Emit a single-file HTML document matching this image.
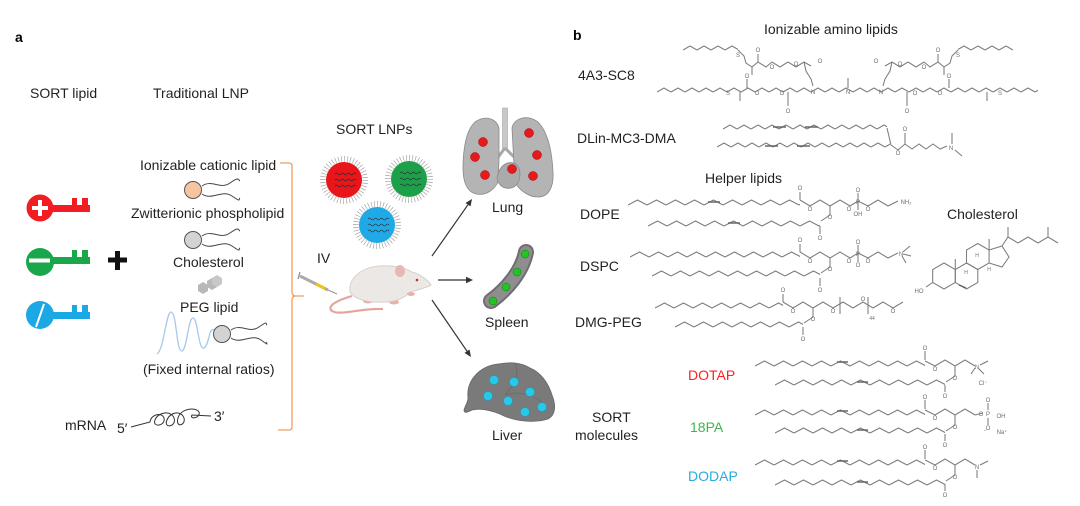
<!DOCTYPE html>
<html><head><meta charset="utf-8"><style>
html,body{margin:0;padding:0;background:#fff;}
svg{display:block;}
text{font-family:"Liberation Sans",Arial,sans-serif;}
.t{font-size:14px;fill:#231f20;}
.s{font-size:6px;fill:#6f6f6f;text-anchor:middle;}
.ln{stroke:#7c7c7c;stroke-width:1.05;fill:none;}
.db{stroke:#5e5e5e;stroke-width:1.4;}
</style></head><body>
<svg width="1080" height="506" viewBox="0 0 1080 506" xmlns="http://www.w3.org/2000/svg">
<defs>
<pattern id="z1" width="14" height="6" patternUnits="userSpaceOnUse"><path d="M0,5 L7,1 L14,5" fill="none" stroke="#7c7c7c" stroke-width="1.05"/></pattern>
<pattern id="z2" width="19" height="7" patternUnits="userSpaceOnUse"><path d="M0,6 L9.5,1 L19,6" fill="none" stroke="#7c7c7c" stroke-width="1.05"/></pattern>
<g id="sq"><path d="M-10,0 q1.5,-2 3,0 t3,0 t3,0 t3,0 t3,0 t3,0 t3,0" stroke="#222" stroke-width="0.6" fill="none"/></g>
<g id="armL">
  <g transform="translate(683,45)"><rect width="55" height="6" fill="url(#z1)"/></g>
  <polyline class="ln" points="738,50 744,56 746,63 752,67 758,62 766,67 772,62 780,67 788,62 796,67 804,62 811,66"/>
  <line class="ln" x1="758" y1="62" x2="758" y2="54"/>
  <line class="ln" x1="752" y1="67" x2="752" y2="75"/>
  <polyline class="ln" points="804,62 806,71 811,79 813,86"/>
</g>
<g id="headPC">
  <polyline class="ln" points="800,200 810,206 820,200 830,206 840,200 850,206 858,201 868,206 878,200 888,206 898,201"/>
  <line class="ln" x1="800" y1="200" x2="800" y2="192"/>
  <line class="ln" x1="858" y1="201" x2="858" y2="193"/>
  <line class="ln" x1="858" y1="201" x2="858" y2="210"/>
  <polyline class="ln" points="830,206 830,215 821,221"/>
  <line class="ln" x1="820" y1="226" x2="820" y2="234"/>
</g>
<g id="headSort">
  <line class="ln" x1="925" y1="360" x2="925" y2="351"/>
  <polyline class="ln" points="925,361 935,366 945,360 955,366 965,360 975,366"/>
  <polyline class="ln" points="955,366 955,376 946,382"/>
  <line class="ln" x1="945" y1="385" x2="945" y2="392"/>
</g>
</defs>

<!-- ========== PANEL A ========== -->
<text x="15" y="42" style="font-size:14px;font-weight:bold;fill:#000">a</text>
<text class="t" x="30" y="98">SORT lipid</text>
<text class="t" x="153" y="98">Traditional LNP</text>

<!-- keys -->
<g fill="#f01e23">
  <circle cx="40" cy="208" r="13.5"/>
  <rect x="50" y="205" width="40" height="7"/>
  <rect x="72" y="198" width="5" height="8"/>
  <rect x="82" y="198" width="6" height="8"/>
</g>
<rect x="32" y="206" width="16" height="4" fill="#fff"/>
<rect x="38" y="200" width="4" height="16" fill="#fff"/>

<g fill="#1aa64a">
  <circle cx="40" cy="262" r="14"/>
  <rect x="50" y="257" width="40" height="7"/>
  <rect x="72" y="250" width="5" height="8"/>
  <rect x="82" y="250" width="6" height="8"/>
</g>
<rect x="29" y="258.5" width="21" height="4" fill="#fff"/>

<g fill="#1ca8e4">
  <circle cx="40" cy="315" r="14"/>
  <rect x="50" y="312" width="40" height="7"/>
  <rect x="72" y="305" width="5" height="8"/>
  <rect x="82" y="305" width="6" height="8"/>
</g>
<line x1="36" y1="327" x2="44" y2="304" stroke="#fff" stroke-width="2"/>

<!-- plus -->
<rect x="108" y="257.5" width="19" height="5" fill="#111"/>
<rect x="115" y="251" width="5" height="19" fill="#111"/>

<!-- LNP components -->
<text class="t" x="140" y="170">Ionizable cationic lipid</text>
<circle cx="193" cy="190" r="8.5" fill="#f6c5a0" stroke="#555" stroke-width="1"/>
<path d="M202,186 C212,179 220,190 230,183 S238,180 240,181" stroke="#444" fill="none" stroke-width="1"/>
<path d="M202,194 C212,201 222,189 232,196 S238,199 240,198" stroke="#444" fill="none" stroke-width="1"/>

<text class="t" x="131" y="218">Zwitterionic phospholipid</text>
<circle cx="193" cy="240" r="8.5" fill="#d3d3d3" stroke="#555" stroke-width="1"/>
<path d="M202,236 C212,229 220,240 230,233 S238,230 240,231" stroke="#444" fill="none" stroke-width="1"/>
<path d="M202,244 C212,251 222,239 232,246 S238,249 240,248" stroke="#444" fill="none" stroke-width="1"/>

<text class="t" x="173" y="267">Cholesterol</text>
<g fill="#b8b8b8">
  <polygon points="203,282 208,285 208,291 203,294 198,291 198,285"/>
  <polygon points="212,278 217,281 217,287 212,290 207,287 207,281"/>
  <polygon points="217,275 222,278 222,284 217,287 212,284 212,278" fill="#c8c8c8"/>
</g>

<text class="t" x="180" y="312">PEG lipid</text>
<path d="M157,354 C164,350 166,312 171,312 C177,312 176,352 182,351 C187,350 188,318 193,318 C198,318 198,350 204,348 C209,346 209,326 214,330" stroke="#a9c8ea" stroke-width="1.3" fill="none"/>
<circle cx="222" cy="334" r="8.5" fill="#d3d3d3" stroke="#555" stroke-width="1"/>
<path d="M231,330 C241,323 249,334 259,327 S265,324 267,325" stroke="#444" fill="none" stroke-width="1"/>
<path d="M231,338 C241,345 251,333 261,340 S265,343 267,342" stroke="#444" fill="none" stroke-width="1"/>

<text class="t" x="143" y="374">(Fixed internal ratios)</text>

<text class="t" x="65" y="430">mRNA</text>
<text class="t" x="117" y="433">5′</text>
<text class="t" x="214" y="421">3′</text>
<path d="M131,427 L150,422 C151,414 162,412 164,418 C166,426 152,428 155,420 C158,412 171,410 174,418 C177,427 163,429 167,420 C170,412 181,410 184,418 C186,426 175,428 178,418 C181,408 196,407 199,412 C201,418 189,420 192,415 L211,416" stroke="#333" stroke-width="1" fill="none"/>

<!-- orange bracket -->
<path d="M280,163 L289,163 Q292,163 292,166 L292,292 Q292,296 296,296 L304,296 M296,296 Q292,296 292,300 L292,427 Q292,430 289,430 L278,430" stroke="#f39c5d" stroke-width="1.3" fill="none"/>

<!-- SORT LNPs -->
<text class="t" x="336" y="134">SORT LNPs</text>
<g>
  <circle cx="344" cy="180" r="21" fill="none" stroke="#999" stroke-width="6" stroke-dasharray="0.6 2.4"/>
  <circle cx="344" cy="180" r="18" fill="#e8151b"/>
  <use href="#sq" transform="translate(345,174)"/><use href="#sq" transform="translate(345,180)"/><use href="#sq" transform="translate(345,186)"/>
</g>
<g>
  <circle cx="409" cy="179" r="21" fill="none" stroke="#999" stroke-width="6" stroke-dasharray="0.6 2.4"/>
  <circle cx="409" cy="179" r="18" fill="#1ca04a"/>
  <use href="#sq" transform="translate(410,173)"/><use href="#sq" transform="translate(410,179)"/><use href="#sq" transform="translate(410,185)"/>
</g>
<g>
  <circle cx="377" cy="225" r="21" fill="none" stroke="#999" stroke-width="6" stroke-dasharray="0.6 2.4"/>
  <circle cx="377" cy="225" r="18" fill="#1fa9e6"/>
  <use href="#sq" transform="translate(378,219)"/><use href="#sq" transform="translate(378,225)"/><use href="#sq" transform="translate(378,231)"/>
</g>

<text class="t" x="317" y="263">IV</text>

<!-- syringe -->
<line x1="300" y1="276" x2="328" y2="290" stroke="#aaa" stroke-width="3"/>
<line x1="316" y1="284" x2="325" y2="288.5" stroke="#f0c419" stroke-width="3"/>
<line x1="328" y1="290" x2="337" y2="294" stroke="#777" stroke-width="0.8"/>
<line x1="300" y1="272" x2="298" y2="279" stroke="#888" stroke-width="1.2"/>

<!-- mouse -->
<path d="M352,296 C338,300 326,306 332,311 C340,316 360,308 383,309" stroke="#e3a49c" stroke-width="2.2" fill="none"/>
<ellipse cx="368" cy="301" rx="5" ry="2.5" fill="#e9b2ab"/>
<ellipse cx="394" cy="302" rx="5" ry="2.5" fill="#e9b2ab"/>
<path d="M350,292 C348,278 362,267 380,266 C395,265 405,268 412,272 C420,274 428,280 431,285 C426,288 418,290 410,292 C405,298 395,302 385,302 C370,303 355,300 350,292 Z" fill="#ebe8e5" stroke="#cfcac5" stroke-width="0.8"/>
<ellipse cx="400" cy="271" rx="5" ry="6" fill="#e9b6b2"/>
<circle cx="417" cy="280" r="1.3" fill="#b33"/>
<ellipse cx="411" cy="294" rx="4" ry="2" fill="#e9b2ab"/>

<!-- arrows -->
<g stroke="#333" stroke-width="1.2">
  <line x1="432" y1="256" x2="468" y2="204.7"/>
  <line x1="438" y1="280" x2="466" y2="280"/>
  <line x1="432" y1="300" x2="467" y2="351.2"/>
</g>
<g fill="#333">
  <polygon points="472,199 470.5,206.4 465.5,203"/>
  <polygon points="473,280 466,276.8 466,283.2"/>
  <polygon points="471,357 469.5,349.5 464.5,352.9"/>
</g>

<!-- lung -->
<rect x="502.5" y="108" width="5" height="42" fill="#c8c8c8" stroke="#9a9a9a" stroke-width="0.5"/>
<path d="M505,148 L496,160 M505,148 L515,158" stroke="#a8a8a8" stroke-width="3" fill="none"/>
<path d="M499,128 C496,118 485,115 475,122 C466,130 463,150 463,168 C463,182 467,192 476,194 C486,196 494,190 498,182 L499,160 Z" fill="#b4b4b4" stroke="#8a8a8a" stroke-width="0.8"/>
<path d="M512,128 C514,118 527,114 538,122 C548,132 552,152 553,172 C554,188 548,197 538,197 C528,197 520,190 516,184 C522,178 520,168 514,165 Z" fill="#b4b4b4" stroke="#8a8a8a" stroke-width="0.8"/>
<path d="M497,178 C499,165 508,160 516,164 C522,170 521,182 514,187 C507,190 499,188 497,178 Z" fill="#aaaaaa" stroke="#8a8a8a" stroke-width="0.8"/>
<g fill="#e41a1c" stroke="#b30000" stroke-width="0.5">
  <circle cx="483" cy="142" r="4.5"/><circle cx="475" cy="157" r="4.5"/><circle cx="485" cy="175" r="4.5"/>
  <circle cx="529" cy="133" r="4.5"/><circle cx="537" cy="155" r="4.5"/><circle cx="533" cy="176" r="4.5"/>
  <circle cx="512" cy="169" r="4.5"/>
</g>
<text class="t" x="492" y="212">Lung</text>

<!-- spleen -->
<path d="M526,252 C522,272 506,290 491,301" stroke="#6e6e6e" stroke-width="16" stroke-linecap="round" fill="none"/>
<path d="M526,252 C522,272 506,290 491,301" stroke="#8e8e8e" stroke-width="12" stroke-linecap="round" fill="none"/>
<g fill="#22c322" stroke="#127a12" stroke-width="0.5">
  <circle cx="525" cy="254" r="4"/><circle cx="517" cy="272" r="4"/><circle cx="506" cy="287" r="4"/><circle cx="493" cy="301" r="4"/>
</g>
<text class="t" x="485" y="327">Spleen</text>

<!-- liver -->
<path d="M468,398 C466,380 480,366 498,364 C510,362 520,362 530,368 C540,372 548,382 552,395 C556,405 556,415 548,419 C535,423 515,422 500,414 C490,410 480,408 472,410 C468,412 464,414 464,410 C465,406 468,402 468,398 Z" fill="#7a7a7a" stroke="#666" stroke-width="0.8"/>
<path d="M515,364 C520,375 515,385 505,395 M505,395 C520,390 535,395 545,405" stroke="#6a6a6a" stroke-width="0.8" fill="none"/>
<g fill="#27c8e8" stroke="#1a9ab8" stroke-width="0.5">
  <circle cx="494" cy="380" r="4.5"/><circle cx="514" cy="382" r="4.5"/><circle cx="530" cy="392" r="4.5"/>
  <circle cx="488" cy="396" r="4.5"/><circle cx="508" cy="401" r="4.5"/><circle cx="525" cy="412" r="4.5"/>
  <circle cx="542" cy="407" r="4.5"/>
</g>
<text class="t" x="492" y="440">Liver</text>

<!-- ========== PANEL B ========== -->
<text x="573" y="40" style="font-size:14px;font-weight:bold;fill:#000">b</text>
<text class="t" x="764" y="34">Ionizable amino lipids</text>
<text class="t" x="578" y="80">4A3-SC8</text>
<text class="t" x="577" y="143">DLin-MC3-DMA</text>
<text class="t" x="705" y="183">Helper lipids</text>
<text class="t" x="580" y="219">DOPE</text>
<text class="t" x="947" y="219">Cholesterol</text>
<text class="t" x="580" y="271">DSPC</text>
<text class="t" x="575" y="327">DMG-PEG</text>
<text x="688" y="380" style="font-size:14px;fill:#ff2020">DOTAP</text>
<text class="t" x="592" y="422">SORT</text>
<text class="t" x="575" y="440">molecules</text>
<text x="690" y="432" style="font-size:14px;fill:#3cb54a">18PA</text>
<text x="688" y="481" style="font-size:14px;fill:#29aae1">DODAP</text>

<!-- 4A3-SC8 -->
<g transform="translate(657,87)"><rect width="381" height="6" fill="url(#z1)"/></g>
<use href="#armL"/>
<use href="#armL" transform="translate(1696,0) scale(-1,1)"/>
<line class="ln" x1="848" y1="88" x2="848" y2="78"/>
<line class="ln" x1="747" y1="88" x2="747" y2="79"/>
<line class="ln" x1="949" y1="88" x2="949" y2="79"/>
<line class="ln" x1="740" y1="92" x2="740" y2="101"/>
<line class="ln" x1="987" y1="92" x2="987" y2="101"/>
<line class="ln" x1="788" y1="92" x2="788" y2="106"/>
<line class="ln" x1="907" y1="92" x2="907" y2="106"/>
<g class="s">
  <text x="738" y="57">S</text><text x="958" y="57">S</text>
  <text x="758" y="52">O</text><text x="938" y="52">O</text>
  <text x="772" y="69">O</text><text x="924" y="69">O</text>
  <text x="796" y="66">O</text><text x="900" y="66">O</text>
  <text x="820" y="63">O</text><text x="876" y="63">O</text>
  <text x="728" y="95">S</text><text x="1000" y="95">S</text>
  <text x="747" y="78">O</text><text x="949" y="78">O</text>
  <text x="757" y="95">O</text><text x="940" y="95">O</text>
  <text x="782" y="95">O</text><text x="915" y="95">O</text>
  <text x="788" y="113">O</text><text x="907" y="113">O</text>
  <text x="813" y="94">N</text><text x="848" y="94">N</text><text x="881" y="94">N</text>
</g>

<!-- DLin-MC3-DMA -->
<g transform="translate(723,124)"><rect width="164" height="6" fill="url(#z1)"/></g>
<g transform="translate(717,142)"><rect width="173" height="6" fill="url(#z1)"/></g>
<line class="db" x1="773" y1="127" x2="786" y2="127"/>
<line class="db" x1="805" y1="127" x2="818" y2="127"/>
<line class="db" x1="765" y1="146" x2="778" y2="146"/>
<line class="db" x1="797" y1="146" x2="810" y2="146"/>
<line class="ln" x1="887" y1="128" x2="891" y2="145"/>
<polyline class="ln" points="891,145 898,150 905,144 912,149 919,144 926,149 933,144 940,149 947,146"/>
<line class="ln" x1="905" y1="144" x2="905" y2="133"/>
<line class="ln" x1="952" y1="144" x2="952" y2="133"/>
<line class="ln" x1="955" y1="150" x2="962" y2="156"/>
<g class="s"><text x="905" y="131">O</text><text x="898" y="155">O</text><text x="951" y="150">N</text></g>

<!-- DOPE -->
<g transform="translate(628,199)"><rect width="172" height="7" fill="url(#z2)"/></g>
<g transform="translate(648,220)"><rect width="172" height="7" fill="url(#z2)"/></g>
<line class="db" x1="708" y1="202" x2="720" y2="202"/>
<line class="db" x1="728" y1="223" x2="740" y2="223"/>
<use href="#headPC"/>
<g class="s">
  <text x="800" y="190">O</text><text x="810" y="211">O</text><text x="830" y="219">O</text>
  <text x="849" y="211">O</text><text x="858" y="204">P</text><text x="858" y="192">O</text>
  <text x="858" y="216">OH</text><text x="868" y="211">O</text><text x="906" y="204">NH₂</text>
  <text x="820" y="240">O</text>
</g>

<!-- DSPC -->
<g transform="translate(630,251)"><rect width="170" height="7" fill="url(#z2)"/></g>
<g transform="translate(652,270)"><rect width="168" height="7" fill="url(#z2)"/></g>
<use href="#headPC" transform="translate(0,52)"/>
<g class="s">
  <text x="800" y="242">O</text><text x="810" y="263">O</text><text x="830" y="271">O</text>
  <text x="849" y="263">O</text><text x="858" y="256">P</text><text x="858" y="244">O</text>
  <text x="858" y="267">O</text><text x="868" y="263">O</text><text x="901" y="256">N</text>
  <text x="820" y="292">O</text>
</g>
<line class="ln" x1="903" y1="252" x2="910" y2="246"/>
<line class="ln" x1="903" y1="254" x2="911" y2="256"/>
<line class="ln" x1="902" y1="256" x2="906" y2="263"/>

<!-- DMG-PEG -->
<g transform="translate(655,302)"><rect width="128" height="7" fill="url(#z2)"/></g>
<g transform="translate(675,321)"><rect width="128" height="7" fill="url(#z2)"/></g>
<line class="ln" x1="783" y1="302" x2="783" y2="294"/>
<polyline class="ln" points="783,302 793,308 803,302 813,308 823,302 833,308 843,302 853,308 863,302 873,308 883,302 893,308 903,302"/>
<line class="ln" x1="840" y1="297" x2="840" y2="314"/>
<line class="ln" x1="868" y1="297" x2="868" y2="314"/>
<polyline class="ln" points="813,308 813,317 804,323"/>
<line class="ln" x1="803" y1="327" x2="803" y2="335"/>
<g class="s">
  <text x="783" y="292">O</text><text x="793" y="313">O</text><text x="833" y="313">O</text>
  <text x="863" y="301">O</text><text x="893" y="313">O</text><text x="813" y="321">O</text>
  <text x="803" y="341">O</text><text x="872" y="320" style="font-size:5px">44</text>
</g>

<!-- Cholesterol -->
<g transform="translate(0,6)">
<g class="ln">
  <polygon points="944,257 955.3,263.5 955.3,276.5 944,283 932.7,276.5 932.7,263.5"/>
  <polygon points="966.5,257 977.8,263.5 977.8,276.5 966.5,283 955.3,276.5 955.3,263.5"/>
  <polygon points="977.8,237.5 989.1,244 989.1,257 977.8,263.5 966.5,257 966.5,244"/>
  <polyline points="989.1,244 1002,240 1009,251 1002,261 989.1,257"/>
  <line x1="955.3" y1="263.5" x2="955.3" y2="253"/>
  <line x1="989.1" y1="244" x2="989.1" y2="233"/>
  <line x1="932.7" y1="276.5" x2="926" y2="281"/>
  <polyline points="1002,240 1008,231 1018,237 1028,231 1038,237 1048,231 1058,237"/>
  <line x1="1008" y1="231" x2="1008" y2="221"/>
  <line x1="1048" y1="231" x2="1048" y2="221"/>
</g>
<line class="db" x1="959" y1="279" x2="966" y2="282"/>
<g class="s">
  <text x="919" y="287">HO</text><text x="966" y="268" style="font-size:5px">H</text>
  <text x="989" y="265" style="font-size:5px">H</text><text x="977" y="251" style="font-size:5px">H</text>
</g>
</g>

<!-- DOTAP -->
<g transform="translate(755,360)"><rect width="170" height="7" fill="url(#z2)"/></g>
<g transform="translate(775,379)"><rect width="170" height="7" fill="url(#z2)"/></g>
<line class="db" x1="837" y1="362" x2="848" y2="362"/>
<line class="db" x1="857" y1="382" x2="868" y2="382"/>
<use href="#headSort"/>
<g class="s">
  <text x="925" y="350">O</text><text x="935" y="371">O</text><text x="955" y="380">O</text>
  <text x="945" y="398">O</text><text x="977" y="369">N</text><text x="983" y="385">Cl⁻</text>
</g>
<line class="ln" x1="980" y1="365" x2="988" y2="361"/>
<line class="ln" x1="978" y1="368" x2="984" y2="374"/>
<line class="ln" x1="975" y1="368" x2="971" y2="374"/>

<!-- 18PA -->
<g transform="translate(755,409)"><rect width="170" height="7" fill="url(#z2)"/></g>
<g transform="translate(775,427)"><rect width="170" height="7" fill="url(#z2)"/></g>
<line class="db" x1="837" y1="411" x2="848" y2="411"/>
<line class="db" x1="857" y1="430" x2="868" y2="430"/>
<use href="#headSort" transform="translate(0,49)"/>
<line class="ln" x1="975" y1="415" x2="983" y2="413"/>
<line class="ln" x1="988" y1="410" x2="988" y2="403"/>
<line class="ln" x1="988" y1="418" x2="988" y2="425"/>
<g class="s">
  <text x="925" y="399">O</text><text x="935" y="420">O</text><text x="955" y="429">O</text>
  <text x="945" y="447">O</text><text x="981" y="416">O</text><text x="988" y="416">P</text>
  <text x="988" y="402">O</text><text x="988" y="430">O</text><text x="1001" y="418">OH</text>
  <text x="985" y="432">-</text><text x="1002" y="434">Na⁺</text>
</g>

<!-- DODAP -->
<g transform="translate(755,459)"><rect width="170" height="7" fill="url(#z2)"/></g>
<g transform="translate(775,479)"><rect width="170" height="7" fill="url(#z2)"/></g>
<line class="db" x1="837" y1="461" x2="848" y2="461"/>
<line class="db" x1="857" y1="482" x2="868" y2="482"/>
<use href="#headSort" transform="translate(0,99)"/>
<line class="ln" x1="980" y1="465" x2="988" y2="461"/>
<line class="ln" x1="977" y1="470" x2="977" y2="478"/>
<g class="s">
  <text x="925" y="449">O</text><text x="935" y="470">O</text><text x="955" y="479">O</text>
  <text x="945" y="497">O</text><text x="977" y="469">N</text>
</g>
</svg>
</body></html>
